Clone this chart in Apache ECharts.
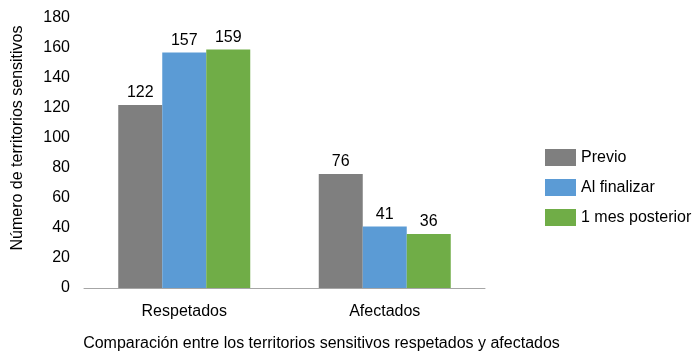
<!DOCTYPE html>
<html lang="es">
<head>
    <meta charset="utf-8">
    <title>Territorios sensitivos</title>
    <script src="https://cdn.jsdelivr.net/npm/echarts@6/dist/echarts.min.js"></script>
    <style>
        html, body { margin: 0; padding: 0; background: #fff; }
        #chart { width: 694px; height: 355px; }
    </style>
</head>
<body>
    <div id="chart"></div>
    <script>
        // datos
        var categorias = ['Respetados', 'Afectados'];
        var previo = [122, 76];
        var alFinalizar = [157, 41];
        var mesPosterior = [159, 36];
        var nombres = ['Previo', 'Al finalizar', '1 mes posterior'];
        var colores = ['#7f7f7f', '#5b9bd5', '#70ad47'];

        var chart = echarts.init(document.getElementById('chart'));
        var fuente = 'Liberation Sans, Arial, sans-serif';

        function serie(nombre, datos, color) {
            return {
                name: nombre,
                type: 'bar',
                data: datos,
                barWidth: 44,
                barGap: '0%',
                itemStyle: { color: color },
                label: {
                    show: true,
                    position: 'top',
                    distance: 4,
                    color: '#000',
                    fontSize: 16,
                    fontFamily: fuente
                }
            };
        }

        var option = {
            animation: false,
            textStyle: { fontFamily: fuente },
            grid: { left: 84, right: 209, top: 18, bottom: 67, outerBoundsMode: 'none', containLabel: false },
            legend: {
                orient: 'vertical',
                left: 540,
                top: 144,
                itemWidth: 31,
                itemHeight: 17,
                itemGap: 13,
                icon: 'rect',
                textStyle: { fontSize: 16, color: '#000', fontFamily: fuente },
                data: nombres
            },
            xAxis: {
                type: 'category',
                data: categorias,
                name: 'Comparación entre los territorios sensitivos respetados y afectados',
                nameLocation: 'middle',
                nameGap: 48,
                nameTextStyle: { fontSize: 16, color: '#000', padding: [0, 0, 0, 74] },
                axisLine: { lineStyle: { color: '#a6a6a6' } },
                axisTick: { show: false },
                axisLabel: { fontSize: 16, color: '#000', margin: 16 }
            },
            yAxis: {
                type: 'value',
                min: 0,
                max: 180,
                interval: 20,
                name: 'Número de territorios sensitivos',
                nameLocation: 'middle',
                nameGap: 58,
                nameTextStyle: { fontSize: 16, color: '#000', padding: [0, 0, 0, 30] },
                axisLine: { show: false },
                axisTick: { show: false },
                splitLine: { show: false },
                axisLabel: { fontSize: 16, color: '#000', margin: 14 }
            },
            series: [
                serie(nombres[0], previo, colores[0]),
                serie(nombres[1], alFinalizar, colores[1]),
                serie(nombres[2], mesPosterior, colores[2])
            ]
        };

        chart.setOption(option, true);
    </script>
</body>
</html>
